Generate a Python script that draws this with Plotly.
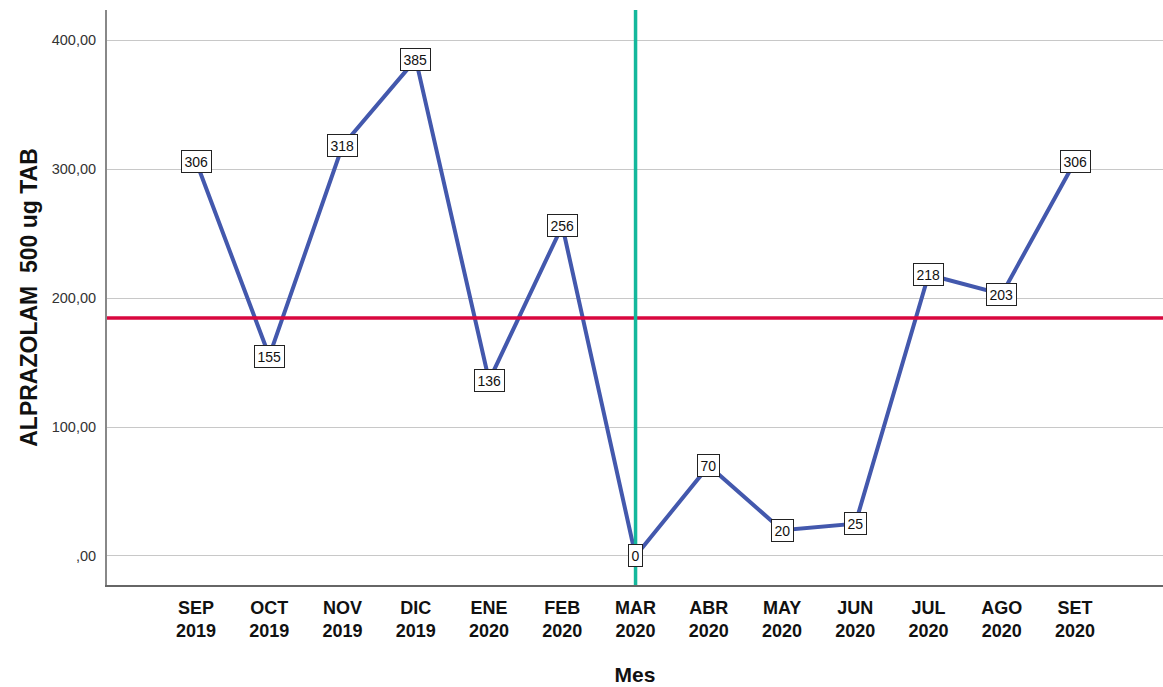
import plotly.graph_objects as go
import numpy as np

months = ["SEP<br>2019", "OCT<br>2019", "NOV<br>2019", "DIC<br>2019", "ENE<br>2020", "FEB<br>2020",
          "MAR<br>2020", "ABR<br>2020", "MAY<br>2020", "JUN<br>2020", "JUL<br>2020", "AGO<br>2020", "SET<br>2020"]
values = [306, 155, 318, 385, 136, 256, 0, 70, 20, 25, 218, 203, 306]
y_ticks = [0, 100, 200, 300, 400]
y_tick_labels = [",00", "100,00", "200,00", "300,00", "400,00"]
intervention_index = 6

x = list(range(len(months)))
mean_val = float(np.mean(values))

fig = go.Figure()
fig.add_trace(go.Scatter(x=x, y=values, mode="lines",
                         line=dict(color="#4358ad", width=4), showlegend=False, hoverinfo="skip"))

fig.add_shape(type="line", xref="paper", yref="y", x0=0, x1=1, y0=mean_val, y1=mean_val,
              line=dict(color="#d9073f", width=3.5))
fig.add_shape(type="line", xref="x", yref="paper", x0=intervention_index, x1=intervention_index, y0=0, y1=1,
              line=dict(color="#14b89c", width=3.5))

for xi, v in zip(x, values):
    fig.add_annotation(x=xi, y=v, text=str(v), showarrow=False,
                       font=dict(family="Arial, Liberation Sans", size=14, color="#111"),
                       bgcolor="white", bordercolor="#222", borderwidth=1, borderpad=2.5)

fig.update_layout(
    width=1163, height=687,
    margin=dict(l=107, r=0, t=10, b=102),
    plot_bgcolor="white", paper_bgcolor="white",
    font=dict(family="Arial, Liberation Sans"),
)
fig.update_xaxes(range=[-1.215, 13.2], tickvals=x, ticktext=["<b>%s</b>" % m for m in months],
                 tickfont=dict(size=18, color="#111"), showgrid=False, zeroline=False,
                 showline=True, linecolor="#666", linewidth=2, ticks="outside", ticklen=5,
                 tickcolor="rgba(0,0,0,0)",
                 title=dict(text="<b>Mes</b>", font=dict(size=21, color="#111"), standoff=27))
fig.update_yaxes(range=[-22.5, 423.3], tickvals=y_ticks, ticktext=y_tick_labels,
                 tickfont=dict(size=14.5, color="#333"), showgrid=True, gridcolor="#c8c8c8", gridwidth=1.2,
                 zeroline=False, showline=True, linecolor="#888", linewidth=2,
                 ticks="outside", ticklen=6, tickcolor="rgba(0,0,0,0)",
                 title=dict(text="<b>ALPRAZOLAM  500 ug TAB</b>", font=dict(size=23, color="#111"), standoff=8))

fig.write_html("out.html", config={"displayModeBar": False},
               post_script="document.body.style.margin='0';document.body.style.overflow='hidden';")
